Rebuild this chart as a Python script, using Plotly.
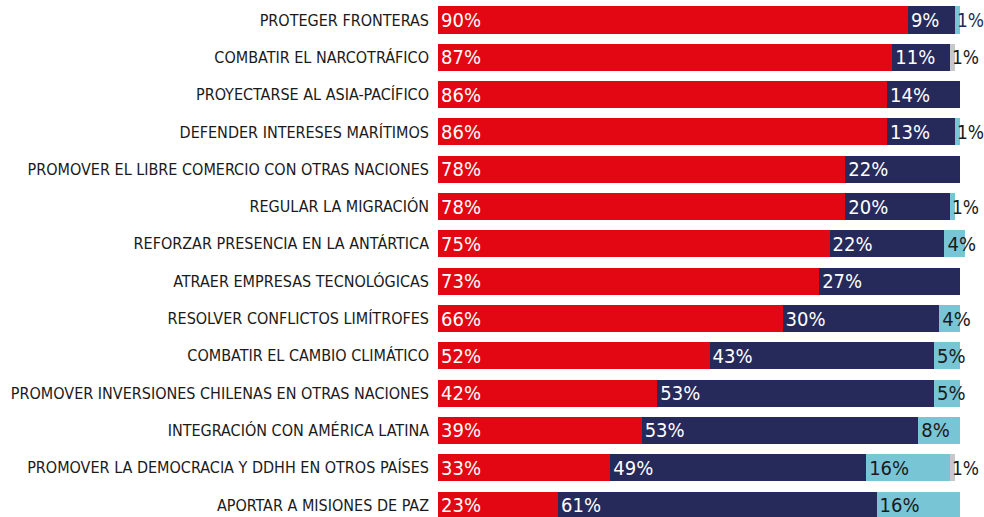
import plotly.graph_objects as go

categories = [
    "PROTEGER FRONTERAS",
    "COMBATIR EL NARCOTRÁFICO",
    "PROYECTARSE AL ASIA-PACÍFICO",
    "DEFENDER INTERESES MARÍTIMOS",
    "PROMOVER EL LIBRE COMERCIO CON OTRAS NACIONES",
    "REGULAR LA MIGRACIÓN",
    "REFORZAR PRESENCIA EN LA ANTÁRTICA",
    "ATRAER EMPRESAS TECNOLÓGICAS",
    "RESOLVER CONFLICTOS LIMÍTROFES",
    "COMBATIR EL CAMBIO CLIMÁTICO",
    "PROMOVER INVERSIONES CHILENAS EN OTRAS NACIONES",
    "INTEGRACIÓN CON AMÉRICA LATINA",
    "PROMOVER LA DEMOCRACIA Y DDHH EN OTROS PAÍSES",
    "APORTAR A MISIONES DE PAZ",
]
red_vals = [90, 87, 86, 86, 78, 78, 75, 73, 66, 52, 42, 39, 33, 23]
navy_vals = [9, 11, 14, 13, 22, 20, 22, 27, 30, 43, 53, 53, 49, 61]
light_vals = [1, 0, 0, 1, 0, 1, 4, 0, 4, 5, 5, 8, 16, 16]
gray_vals = [0, 1, 0, 0, 0, 0, 0, 0, 0, 0, 0, 0, 1, 0]

RED = "#e30613"
NAVY = "#262a5a"
LIGHT = "#78c5d6"
GRAY = "#c8c8c8"
VAL_FONT = "DejaVu Sans Condensed, sans-serif"
CAT_FONT = "DejaVu Sans Condensed, sans-serif"

def lab(vals, small=1):
    return [f"{v}%" if v > small else "" for v in vals]

fig = go.Figure()
series = [
    (red_vals, RED, "white"),
    (navy_vals, NAVY, "white"),
    (light_vals, LIGHT, "#1a1a1a"),
    (gray_vals, GRAY, "#1a1a1a"),
]
for vals, color, tcolor in series:
    fig.add_trace(go.Bar(
        y=categories, x=vals, orientation="h",
        marker=dict(color=color, line=dict(width=0)),
        text=lab(vals), textposition="inside", insidetextanchor="start",
        textangle=0, constraintext="none",
        textfont=dict(family=VAL_FONT, size=20, color=tcolor),
        hoverinfo="skip", showlegend=False,
    ))

for i, cat in enumerate(categories):
    total = red_vals[i] + navy_vals[i] + light_vals[i] + gray_vals[i]
    if light_vals[i] == 1 or gray_vals[i] == 1:
        color = NAVY if i == 0 else "#1a1a1a"
        fig.add_annotation(
            x=total, y=cat, text="1%", showarrow=False,
            xanchor="left", xshift=-5,
            font=dict(family=VAL_FONT, size=19, color=color),
        )

fig.update_layout(
    width=984, height=517,
    margin=dict(l=438, r=3, t=0, b=0),
    barmode="stack", bargap=0.276,
    plot_bgcolor="white", paper_bgcolor="white",
    xaxis=dict(range=[0, 104.0], visible=False),
    yaxis=dict(
        categoryorder="array", categoryarray=categories,
        range=[13.32, -0.536], showgrid=False, zeroline=False,
        ticks="", ticklabelstandoff=8, automargin=False,
        tickfont=dict(family=CAT_FONT, size=16, color="#1a1a1a"),
    ),
)

fig.write_html("out.html", config={"displayModeBar": False},
               post_script="document.body.style.margin='0';")
